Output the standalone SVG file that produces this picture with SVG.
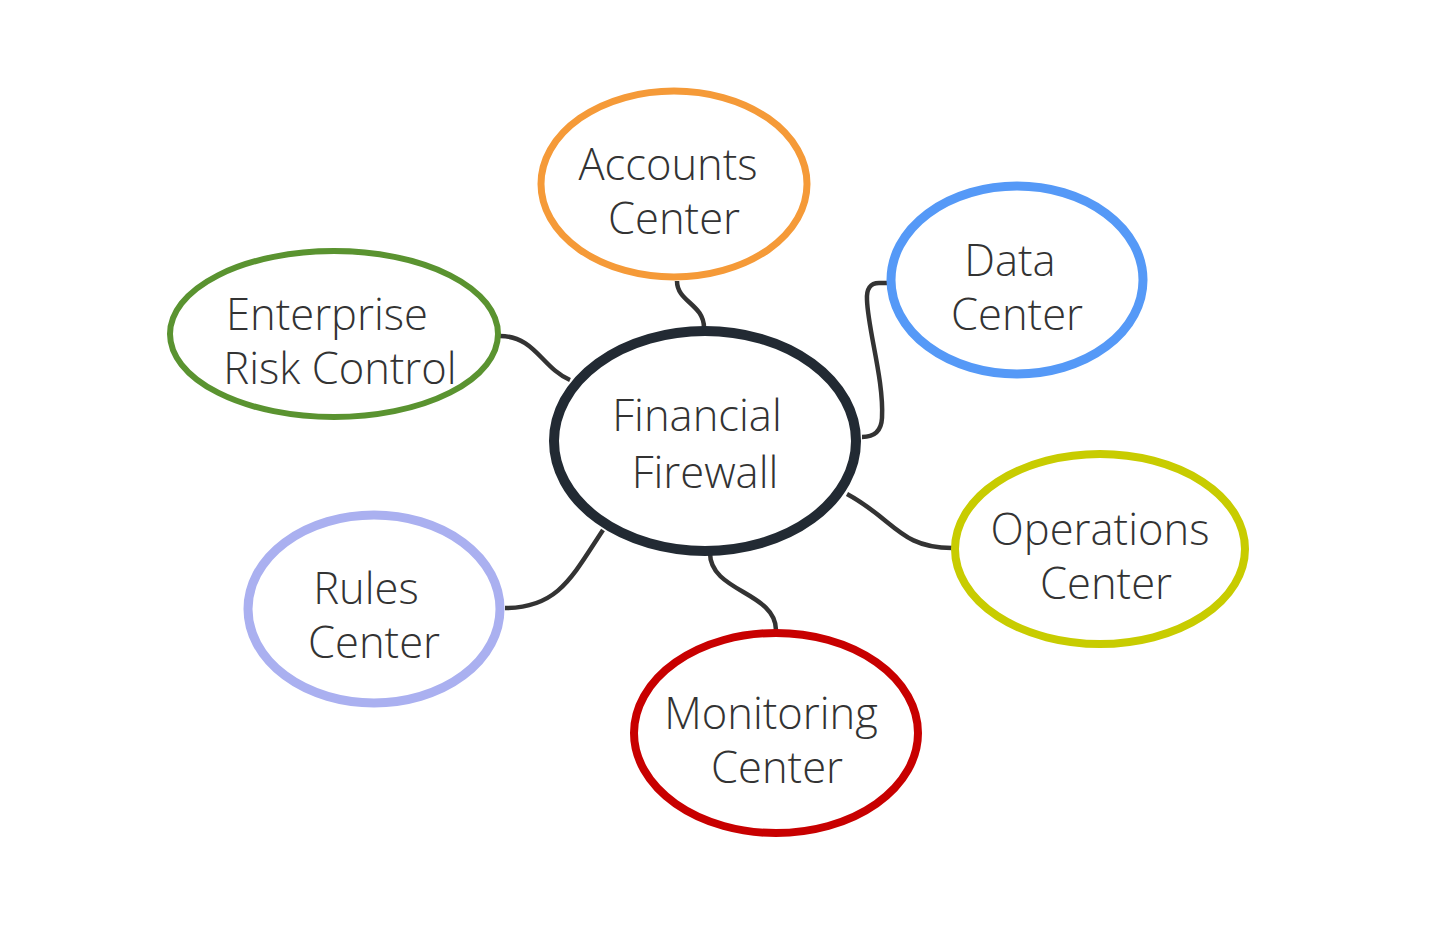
<svg xmlns="http://www.w3.org/2000/svg" width="1438" height="952" viewBox="0 0 1438 952">
<style>
.node ellipse{fill:#fff}
.conn path{fill:none;stroke:#333333;stroke-width:4.5;stroke-linecap:butt}
text{font-family:"Open Sans","Noto Sans","Liberation Sans",sans-serif;font-weight:300;font-size:43.5px;fill:#333333;text-anchor:middle}
</style>
<rect width="1438" height="952" fill="#ffffff"/>
<g id="connectors" class="conn">
<path d="M677,281 C677,302 704,304 704,328"/>
<path d="M889,283 L879,283 Q866,283 867,300 C868,330 884,380 882,418 Q881,437 862,437"/>
<path d="M500,336 C535,336 542,368 570,380"/>
<path d="M847,494 C895,520 900,548 952,548"/>
<path d="M710,553 C710,592 776,592 776,630"/>
<path d="M505,608 C558,608 572,577 603,530"/>
</g>
<g id="accounts" class="node">
<ellipse cx="674" cy="184" rx="133" ry="93" stroke="#f59a38" stroke-width="7"/>
<text x="668" y="180">Accounts</text>
<text x="674" y="234">Center</text>
</g>
<g id="data" class="node">
<ellipse cx="1017" cy="280" rx="126" ry="94" stroke="#5599f7" stroke-width="9"/>
<text x="1010" y="276">Data</text>
<text x="1017" y="330">Center</text>
</g>
<g id="enterprise" class="node">
<ellipse cx="334" cy="334" rx="164" ry="83" stroke="#5a9330" stroke-width="6"/>
<text x="327" y="330">Enterprise</text>
<text x="340" y="384">Risk Control</text>
</g>
<g id="financial" class="node">
<ellipse cx="705" cy="441" rx="151" ry="110" stroke="#222a33" stroke-width="10"/>
<text x="697" y="431">Financial</text>
<text x="705" y="488">Firewall</text>
</g>
<g id="operations" class="node">
<ellipse cx="1100" cy="549" rx="145" ry="95" stroke="#c8cc00" stroke-width="8"/>
<text x="1100" y="545">Operations</text>
<text x="1106" y="599">Center</text>
</g>
<g id="rules" class="node">
<ellipse cx="374" cy="609" rx="126" ry="94" stroke="#aab0f0" stroke-width="9"/>
<text x="366" y="604">Rules</text>
<text x="374" y="658">Center</text>
</g>
<g id="monitoring" class="node">
<ellipse cx="776" cy="733" rx="142" ry="100" stroke="#c80000" stroke-width="8"/>
<text x="771" y="729">Monitoring</text>
<text x="777" y="783">Center</text>
</g>
</svg>
